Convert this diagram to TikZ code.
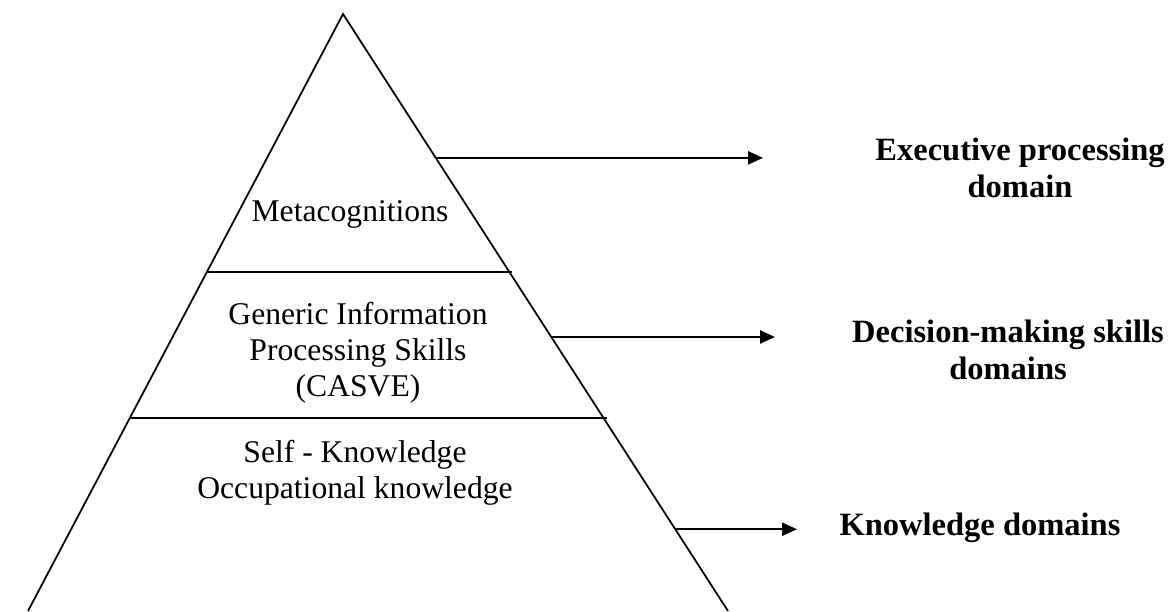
\documentclass[tikz,border=0pt]{standalone}
\usepackage{fontspec}
\setmainfont{Liberation Serif}
\usetikzlibrary{arrows.meta,calc}

\begin{document}
\begin{tikzpicture}[x=0.2mm, y=-0.2mm, line width=1pt,
  every node/.style={align=center, inner sep=0pt},
  layer/.style={font=\fontsize{18}{20.5}\selectfont},
  domainlabel/.style={font=\fontsize{18.5}{21}\selectfont\bfseries},
  pointer/.style={-{Triangle[length=3mm, width=2.6mm]}, line width=1.4pt}]
\useasboundingbox (0,0) rectangle (1168,611);

\coordinate (top) at (343,14);
\coordinate (bl) at (28,611);
\coordinate (br) at (728,611);
\draw (bl) -- (top) -- (br);
\draw ($(top)!0.432!(bl)$) -- ($(top)!0.432!(br)+(3,0)$);
\draw ($(top)!0.677!(bl)$) -- ($(top)!0.677!(br)+(3,0)$);

\node[layer] (meta) at (350,214) {Metacognitions};
\node[layer] (casve) at (358,353) {Generic Information\\Processing Skills\\(CASVE)};
\node[layer] (know) at (355,473) {Self - Knowledge\\Occupational knowledge};

\node[domainlabel] (exec) at (1020,168) {Executive processing\\domain};
\node[domainlabel] (dec) at (1008,350) {Decision-making skills\\domains};
\node[domainlabel] (kdom) at (980,528) {Knowledge domains};

\coordinate (a1) at ($(top)!0.241!(br)$);
\coordinate (a2) at ($(top)!0.541!(br)$);
\coordinate (a3) at ($(top)!0.863!(br)$);
\draw[pointer] (a1) -- (a1 -| 763,0);
\draw[pointer] (a2) -- (a2 -| 775,0);
\draw[pointer] (a3) -- (a3 -| 797,0);
\end{tikzpicture}
\end{document}
